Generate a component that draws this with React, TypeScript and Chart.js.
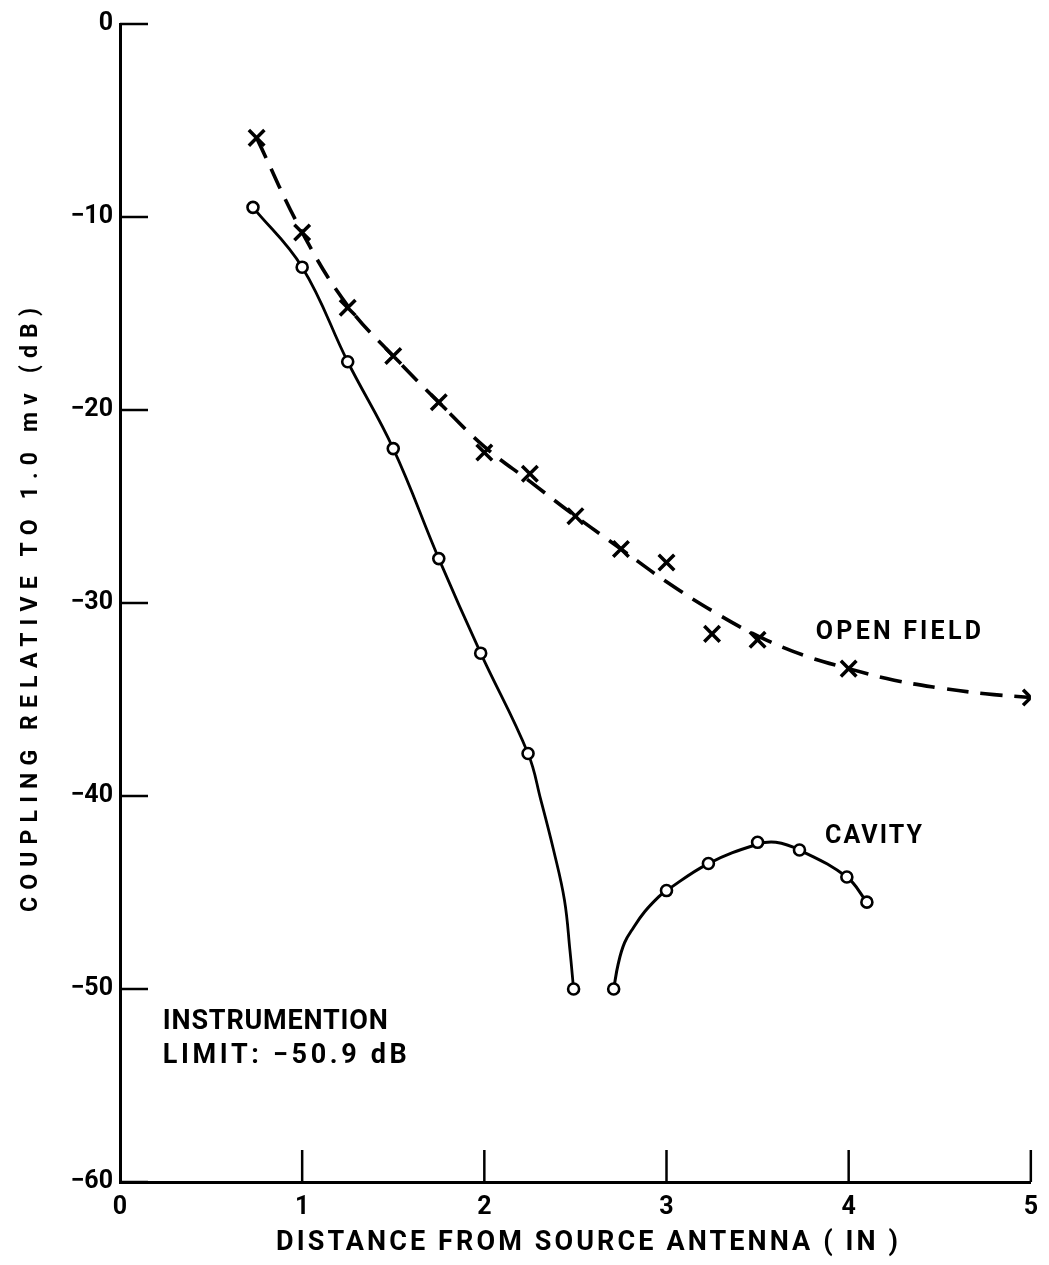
import { useEffect, useRef } from "react";
import { Chart, registerables } from "chart.js";

Chart.register(...registerables);

// Measured points, open field (X marks)
const openFieldX = [0.75, 1.0, 1.25, 1.5, 1.75, 2.0, 2.25, 2.5, 2.75, 3.0, 3.25, 3.5, 4.0, 5.0];
const openFieldY = [-5.9, -10.8, -14.7, -17.2, -19.6, -22.2, -23.3, -25.5, -27.2, -27.9, -31.6, -31.9, -33.4, -34.9];

// Faired (dashed) curve through the open-field data
const openFitX = [0.75, 1.0, 1.25, 1.5, 1.75, 2.0, 2.25, 2.5, 2.75, 3.0, 3.25, 3.5, 3.75, 4.0, 4.25, 4.5, 4.75, 5.0];
const openFitY = [-5.9, -10.8, -14.6, -17.2, -19.6, -21.9, -23.7, -25.5, -27.2, -28.9, -30.4, -31.7, -32.7, -33.4, -34.0, -34.4, -34.7, -34.9];

// Measured points, cavity (circles)
const cavityX = [0.73, 1.0, 1.25, 1.5, 1.75, 1.98, 2.24, 2.49, 2.71, 3.0, 3.23, 3.5, 3.73, 3.99, 4.1];
const cavityY = [-9.5, -12.6, -17.5, -22.0, -27.7, -32.6, -37.8, -50.0, -50.0, -44.9, -43.5, -42.4, -42.8, -44.2, -45.5];

// Cavity curve, first branch (down to the instrumentation limit)
const cavityFitAX = [0.73, 1.0, 1.25, 1.5, 1.75, 1.98, 2.24, 2.31, 2.38, 2.44, 2.47, 2.49];
const cavityFitAY = [-9.5, -12.6, -17.5, -22.0, -27.7, -32.6, -37.8, -40.2, -42.8, -45.4, -48.0, -50.0];

// Cavity curve, second branch
const cavityFitBX = [2.71, 2.735, 2.77, 2.82, 2.88, 2.96, 3.0, 3.23, 3.5, 3.6, 3.73, 3.99, 4.1];
const cavityFitBY = [-50.0, -48.7, -47.6, -46.8, -46.0, -45.2, -44.9, -43.5, -42.5, -42.4, -42.8, -44.2, -45.5];

const xTickValues = [0, 1, 2, 3, 4, 5];
const yTickValues = [0, -10, -20, -30, -40, -50, -60];

const xTitle = "DISTANCE FROM SOURCE ANTENNA ( IN )";
const yTitle = "COUPLING RELATIVE TO 1.0 mv (dB)";

// In-plot notes: text, anchor (data units, left edge / vertical centre)
const noteText = ["OPEN FIELD", "CAVITY", "INSTRUMENTION", "LIMIT: \u221250.9 dB"];
const noteX = [3.82, 3.87, 0.235, 0.235];
const noteY = [-31.55, -42.1, -51.7, -53.5];

const FONT = "Roboto, 'Liberation Sans', sans-serif";

const zip = (xs: number[], ys: number[]) => xs.map((x, i) => ({ x, y: ys[i] }));

function spacedText(
  ctx: CanvasRenderingContext2D,
  text: string,
  left: number,
  cy: number,
  width: number,
  font: string
) {
  ctx.save();
  ctx.font = font;
  (ctx as any).letterSpacing = "0px";
  const w0 = ctx.measureText(text).width;
  const n = Array.from(text).length;
  const sp = n > 1 ? (width - w0) / (n - 1) : 0;
  (ctx as any).letterSpacing = `${sp}px`;
  ctx.textAlign = "left";
  ctx.textBaseline = "middle";
  ctx.fillStyle = "#000";
  ctx.fillText(text, left, cy);
  ctx.restore();
}

const decorations = {
  id: "decorations",
  afterDraw(chart: any) {
    const { ctx, chartArea } = chart;
    const xs = chart.scales.x;
    const ys = chart.scales.y;

    // inward tick marks
    ctx.save();
    ctx.strokeStyle = "#000";
    ctx.lineWidth = 2.5;
    ctx.lineCap = "butt";
    for (const v of yTickValues) {
      const py = ys.getPixelForValue(v);
      ctx.beginPath();
      ctx.moveTo(chartArea.left, py);
      ctx.lineTo(chartArea.left + 28, py);
      ctx.stroke();
    }
    for (const v of xTickValues) {
      if (v === 0) continue;
      const px = xs.getPixelForValue(v);
      ctx.beginPath();
      ctx.moveTo(px, chartArea.bottom);
      ctx.lineTo(px, chartArea.bottom - 32);
      ctx.stroke();
    }
    ctx.restore();

    // axis titles
    spacedText(ctx, xTitle, 276, 1243, 622, `bold 27px ${FONT}`);
    ctx.save();
    ctx.translate(31, 610);
    ctx.rotate(-Math.PI / 2);
    spacedText(ctx, yTitle, -302, 0, 604, `bold 23px ${FONT}`);
    ctx.restore();

    // notes
    const widths = [165, 97, 225, 244];
    const sizes = [25, 25, 27, 27];
    noteText.forEach((t, i) => {
      spacedText(
        ctx,
        t,
        xs.getPixelForValue(noteX[i]),
        ys.getPixelForValue(noteY[i]),
        widths[i],
        `bold ${sizes[i]}px ${FONT}`
      );
    });
  },
};

export default function App() {
  const ref = useRef<HTMLCanvasElement | null>(null);

  useEffect(() => {
    document.body.style.margin = "0";
    const canvas = ref.current;
    if (!canvas) return;

    const chart = new Chart(canvas, {
      type: "scatter",
      data: {
        datasets: [
          {
            label: "open field",
            data: zip(openFieldX, openFieldY),
            showLine: false,
            pointStyle: "crossRot",
            pointRadius: 11,
            borderColor: "#000",
            borderWidth: 3.5,
          },
          {
            label: "cavity",
            data: zip(cavityX, cavityY),
            showLine: false,
            pointStyle: "circle",
            pointRadius: 5.5,
            backgroundColor: "#fff",
            borderColor: "#000",
            borderWidth: 2.6,
          },
          {
            label: "open field fit",
            data: zip(openFitX, openFitY),
            showLine: true,
            pointRadius: 0,
            borderColor: "#000",
            borderWidth: 3.6,
            borderDash: [22, 12],
            tension: 0.4,
          },
          {
            label: "cavity fit a",
            data: zip(cavityFitAX, cavityFitAY),
            showLine: true,
            pointRadius: 0,
            borderColor: "#000",
            borderWidth: 2.8,
            tension: 0.4,
          },
          {
            label: "cavity fit b",
            data: zip(cavityFitBX, cavityFitBY),
            showLine: true,
            pointRadius: 0,
            borderColor: "#000",
            borderWidth: 3,
            tension: 0.4,
          },
        ],
      },
      options: {
        responsive: false,
        animation: false,
        devicePixelRatio: 1,
        layout: { padding: { top: 24, right: 12, left: 0, bottom: 0 } },
        plugins: {
          legend: { display: false },
          tooltip: { enabled: false },
        },
        scales: {
          x: {
            type: "linear",
            min: 0,
            max: 5,
            afterFit: (s: any) => {
              s.height = 83;
            },
            afterBuildTicks: (s: any) => {
              s.ticks = xTickValues.map((v) => ({ value: v }));
            },
            ticks: {
              color: "#000",
              padding: 11,
              font: { family: FONT, size: 25, weight: "bold" },
              callback: (v: any) => String(v),
            },
            grid: { drawOnChartArea: false, drawTicks: false },
            border: { display: true, color: "#000", width: 3 },
          },
          y: {
            type: "linear",
            min: -60,
            max: 0,
            afterFit: (s: any) => {
              s.width = 120;
            },
            afterBuildTicks: (s: any) => {
              s.ticks = yTickValues.map((v) => ({ value: v }));
            },
            ticks: {
              color: "#000",
              padding: 7,
              font: { family: FONT, size: 25, weight: "bold" },
              callback: (v: any) => (Number(v) < 0 ? "\u2212" + Math.abs(Number(v)) : "0"),
            },
            grid: { drawOnChartArea: false, drawTicks: false },
            border: { display: true, color: "#000", width: 3 },
          },
        },
      },
      plugins: [decorations],
    });

    return () => chart.destroy();
  }, []);

  return (
    <div style={{ width: 1049, height: 1265, background: "#fff" }}>
      <canvas ref={ref} width={1049} height={1265} style={{ display: "block" }} />
    </div>
  );
}
